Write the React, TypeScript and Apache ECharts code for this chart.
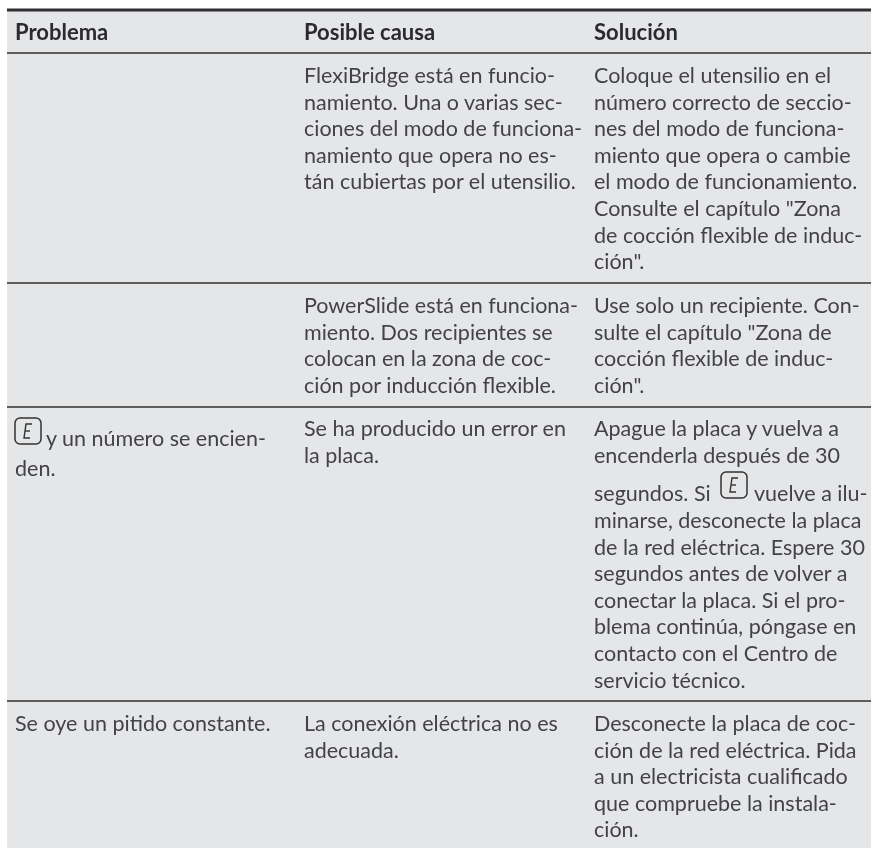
import React, { useEffect, useRef } from "react";
import * as echarts from "echarts";

const headers = ["Problema", "Posible causa", "Solución"];
const col1Row3 = ["y un número se encien-", "den."];
const col1Row4 = ["Se oye un pitido constante."];
const col2Row1 = ["FlexiBridge está en funcio-", "namiento. Una o varias sec-", "ciones del modo de funciona-", "namiento que opera no es-", "tán cubiertas por el utensilio."];
const col2Row2 = ["PowerSlide está en funciona-", "miento. Dos recipientes se", "colocan en la zona de coc-", "ción por inducción flexible."];
const col2Row3 = ["Se ha producido un error en", "la placa."];
const col2Row4 = ["La conexión eléctrica no es", "adecuada."];
const col3Row1 = ["Coloque el utensilio en el", "número correcto de seccio-", "nes del modo de funciona-", "miento que opera o cambie", "el modo de funcionamiento.", "Consulte el capítulo \"Zona", "de cocción flexible de induc-", "ción\"."];
const col3Row2 = ["Use solo un recipiente. Con-", "sulte el capítulo \"Zona de", "cocción flexible de induc-", "ción\"."];
const col3Row3a = ["Apague la placa y vuelva a", "encenderla después de 30"];
const col3Row3b = ["segundos. Si", "vuelve a ilu-"];
const col3Row3c = ["minarse, desconecte la placa", "de la red eléctrica. Espere 30", "segundos antes de volver a", "conectar la placa. Si el pro-", "blema continúa, póngase en", "contacto con el Centro de", "servicio técnico."];
const col3Row4 = ["Desconecte la placa de coc-", "ción de la red eléctrica. Pida", "a un electricista cualificado", "que compruebe la instala-", "ción."];

const FONT = "Lato, 'Noto Sans', sans-serif";
const INK = "#434345";
const X = [15, 304, 594];
const LH = 26.6;

function text(x: number, y: number, t: string, bold = false): any {
  return {
    type: "text",
    x,
    y,
    silent: true,
    style: {
      text: t,
      x: 0,
      y: 0,
      fill: bold ? "#2b2b2d" : INK,
      font: `${bold ? 700 : 400} ${bold ? 22 : 21.5}px ${FONT}`,
      textVerticalAlign: "middle",
      textBaseline: "middle",
    },
  };
}
function block(x: number, y: number, lines: string[], lh = LH): any[] {
  return lines.map((t, i) => text(x, y + i * lh, t));
}
function icon(x: number, y: number): any[] {
  return [
    { type: "rect", x, y, shape: { x: 0, y: 0, width: 26, height: 26, r: 5 }, style: { fill: "none", stroke: "#333", lineWidth: 1.5 } },
    { type: "polyline", x, y, shape: { points: [[17, 6], [11, 6], [9, 20], [15, 20]] }, style: { fill: "none", stroke: "#333", lineWidth: 1.4 } },
    { type: "line", x, y, shape: { x1: 10, y1: 13, x2: 15, y2: 13 }, style: { stroke: "#333", lineWidth: 1.4 } },
  ];
}
function rule(y: number, w: number): any {
  return { type: "line", shape: { x1: 7, y1: y, x2: 871, y2: y }, style: { stroke: "#2f2f31", lineWidth: w } };
}

export default function App() {
  const ref = useRef<HTMLDivElement>(null);
  useEffect(() => {
    const chart = echarts.init(ref.current!, undefined, { renderer: "svg" });
    chart.setOption({
      animation: false,
      graphic: [
        { type: "rect", shape: { x: 7, y: 10, width: 864, height: 838 }, style: { fill: "#e5e6e8" } },
        rule(10, 3),
        rule(53, 1.5),
        rule(283, 1.5),
        rule(407, 1.5),
        rule(701, 1.5),
        ...headers.map((h, i) => text(X[i], 31, h, true)),
        ...block(X[1], 75, col2Row1),
        ...block(X[2], 75, col3Row1),
        ...block(X[1], 305, col2Row2),
        ...block(X[2], 305, col3Row2),
        ...icon(15, 418),
        text(46, 438, col1Row3[0]),
        text(15, 468, col1Row3[1]),
        ...block(X[1], 428, col2Row3),
        ...block(X[2], 428, col3Row3a),
        text(X[2], 493, col3Row3b[0]),
        ...icon(721, 472),
        text(754, 493, col3Row3b[1]),
        ...block(X[2], 520, col3Row3c),
        ...block(X[0], 723, col1Row4),
        ...block(X[1], 723, col2Row4),
        ...block(X[2], 723, col3Row4),
      ],
    });
    return () => chart.dispose();
  }, []);
  return <div ref={ref} style={{ position: "fixed", left: 0, top: 0, width: 871, height: 848 }} />;
}
